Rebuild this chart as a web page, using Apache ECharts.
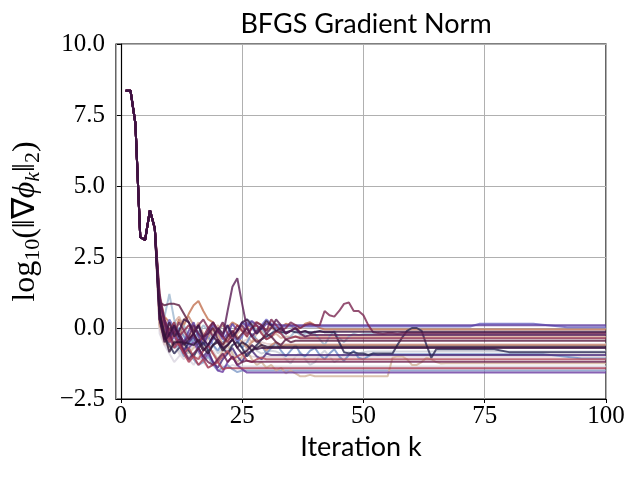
<!DOCTYPE html>
<html>
<head>
<meta charset="utf-8">
<script src="https://cdn.jsdelivr.net/npm/echarts@6/dist/echarts.min.js"></script>
<style>html,body{margin:0;padding:0;background:#fff}#c{width:640px;height:480px}</style>
</head>
<body>
<div id="c"></div>
<script>
// shared start of every run, k = 1..7
const head = [8.35, 8.35, 7.2, 3.2, 3.1, 4.15, 3.5];
// each tail continues from k = 8, one value per iteration; runs stay at their last value
const tail01 = [0.9,0.2,-0.3,0.1,-0.2,-0.5,-0.1,0.2,-0.3,-0.6,-0.2,0.1,-0.1,-0.4,-0.2,0.15,-0.1,0.2,0.05,0.25,0.1,-0.05,0.15,0.1,0.12,0.1];
const tail02 = [0.5,-0.2,0.3,0.0,-0.4,-0.8,-0.5,-0.2,-0.6,-0.3,-0.7,-0.4,-0.1,-0.3,0.1,-0.2,-0.5,-0.3,0.2,0.0,-0.2,0.1,0.3,0.15,0.0,0.05];
const late02 = [[72,0.05],[74,0.15],[85,0.15],[92,0.03]];
const tail03 = [1.0,0.4,0.2,-0.1,0.3,0.1,0.5,0.8,0.95,0.6,0.3,0.2,-0.1,0.1,0.0,0.2,0.1,-0.1,0.0,0.15,0.2,0.1,-0.1,0.05,-0.15,0.0,0.15,0.1,-0.05,0.0,0.15,0.2,0.1,0.0,-0.05];
const tail04 = [0.6,-0.4,0.2,-0.3,-0.1,0.3,0.2,-0.2,0.1,-0.4,-0.6,-0.3,0.0,-0.2,0.1,-0.3,-0.1,0.2,0.3,0.1,-0.2,0.0,0.25,0.1,-0.1,0.0,-0.2,-0.1,0.0,-0.15,-0.1,-0.2,-0.13];
const tail05 = [0.8,0.4,1.2,0.3,-0.2,0.1,-0.3,-0.5,-0.2,0.1,-0.1,-0.4,-0.2,0.2,0.0,-0.3,-0.1,0.1,0.3,0.2,-0.1,0.0,-0.3,-0.2,0.0,-0.1,-0.4,-0.3,-0.1,-0.25,-0.2,-0.15,-0.21,
                -0.4,-0.6,-0.3,-0.1,-0.35,-0.5,-0.3,-0.2,-0.25,-0.21];
const tail06 = [0.2,-0.5,-0.2,0.2,0.4,0.0,-0.3,-0.1,0.2,-0.2,-0.4,-0.1,0.1,-0.3,-0.6,-0.4,-0.2,0.0,-0.3,-0.5,-0.2,-0.1,-0.4,-0.3,-0.2,-0.35,-0.3,-0.31];
const tail07 = [1.2,0.3,-0.1,0.2,-0.3,-0.1,0.1,-0.2,-0.5,-0.3,0.0,0.2,-0.1,-0.3,-0.5,-0.2,0.1,-0.1,-0.3,0.0,0.1,-0.2,-0.4,-0.3,-0.1,-0.2,-0.4,-0.35,-0.3,-0.36];
const tail08 = [0.9,0.8,0.85,0.85,0.8,0.5,0.2,-0.1,0.1,-0.3,-0.2,0.0,-0.4,-0.6,-0.3,-0.1,-0.4,-0.2,0.0,-0.3,-0.5,-0.4,-0.2,-0.3,-0.5,-0.6,-0.4,-0.5,-0.45];
const tail09 = [0.3,-0.4,0.0,-0.2,0.2,-0.1,-0.4,-0.2,0.1,0.3,0.0,-0.3,-0.1,0.2,-0.2,-0.4,-0.1,0.1,-0.2,0.0,0.2,0.1,-0.1,0.3,0.1,-0.1,0.0,0.2,0.1,0.0,0.1,0.15,0.1,
                0.1,0.6,0.45,0.4,0.6,0.85,0.9,0.6,0.6,0.45,0.1,-0.15,-0.18,-0.2,-0.18,-0.18,-0.2,-0.18];
const tail10 = [0.0,-0.6,-0.3,0.1,-0.4,-0.2,-0.7,-0.5,-0.3,-0.6,-0.4,-0.1,-0.5,-0.7,-0.4,-0.3,-0.6,-0.5,-0.4,-0.7,-0.6,-0.5,-0.55,-0.57];
const tail11 = [0.5,-0.2,-0.85,-0.5,-0.5,-0.5,-0.55,-0.6,-0.4,-0.7,-0.9,-0.6,-0.5,-0.8,-0.6,-0.4,-0.7,-0.5,-0.6,-0.8,-0.7,-0.6,-0.65,-0.66];
const tail12 = [0.3,-0.3,-0.6,-0.9,-0.7,-0.5,-0.8,-1.0,-0.7,-0.5,-0.8,-0.6,-0.4,-0.7,-0.9,-0.6,-0.5,-0.7,-1.0,-0.8,-0.6,-0.4,-0.3,-0.2,-0.1,-0.15,
                -0.15,-0.1,-0.15,-0.15,-0.12,-0.15,-0.15,-0.1,-0.15,-0.15,-0.15,
                -0.5,-0.85,-0.9,-0.85,-0.9,-0.9,-0.95,-0.9,-0.9,-0.9,-0.9,
                -0.9,-0.6,-0.33,-0.1,0.0,0.0,-0.1,-0.6,-1.05,-0.75];
const late12 = [[77,-0.75],[80,-0.85]];
const tail13 = [0.1,-0.3,0.0,-0.5,-0.8,-1.0,-1.0,-0.95,-0.7,-0.5,-0.8,-0.6,-0.9,-0.7,-0.5,-0.8,-1.0,-0.9,-0.7,-0.6,-0.8,-0.9,-0.85,-0.8,-0.83,
                -0.9,-1.1,-1.25,-1.0,-0.85,-1.1,-1.3,-1.2,-0.95,-0.8,-1.0,-1.2,-1.1,-0.9,-0.85,-1.0,-0.9,-0.85,-0.83,-0.83];
const tail14 = [0.7,0.1,-0.4,-0.2,0.0,-0.3,-0.6,-0.4,-0.1,-0.5,-0.3,-0.6,-0.8,-0.5,-0.3,-0.1,-0.4,-0.7,-0.5,-0.2,-0.4,-0.6,-0.9,-0.7,-0.5,-0.8,-1.0,-0.8,-0.6,-0.9,-1.0,-0.8,-0.7,-0.95,-1.1,-0.9,-0.75,-1.0,-1.15,-0.95,-0.8,-1.05,-1.1,-1.0,-0.9,-0.95,-0.92,-0.92];
const late14 = [[87,-0.92],[95,-1.07]];
const tail15 = [0.0,-0.5,-0.8,-0.6,-0.9,-1.1,-0.8,-0.6,-0.9,-1.2,-1.0,-0.8,-1.1,-0.9,-0.7,-1.0,-1.2,-1.05,-0.95,-1.0,-1.01];
const tail16 = [0.6,-0.1,-0.5,-0.2,-0.6,-0.9,-0.7,-1.0,-1.1,-0.8,-0.6,-0.9,-1.2,-1.0,-0.8,-1.1,-1.0,-0.9,-1.15,-1.2,-1.1,-1.05,-1.1];
const tail17 = [0.9,0.3,-0.2,-0.6,-0.4,-0.8,-1.1,-0.9,-0.7,-1.0,-1.2,-1.3,-1.1,-0.9,-1.2,-1.0,-1.3,-1.2,-1.15,-1.19];
const tail18 = [0.2,-0.4,-0.7,-0.5,-0.3,-0.6,-0.9,-0.7,-0.5,-0.8,-0.6,-0.9,-1.1,-0.8,-0.6,-0.9,-1.2,-1.0,-0.8,-1.1,-1.3,-1.2,-1.4,-1.3,-1.5,-1.4,-1.6,-1.5,-1.6,-1.7,-1.7,-1.65,-1.7,-1.7,-1.7,-1.7,-1.7,-1.7,-1.7,-1.7,-1.7,-1.7,-1.7,-1.7,-1.7,-1.7,-1.7,-1.7,
                -1.05,-1.0,-1.0,-1.1,-1.3,-1.3,-1.2,-1.05,-1.1,-1.2,-1.25,-1.24];
const tail19 = [-0.2,-0.6,-0.9,-1.2,-1.0,-0.8,-1.1,-1.3,-1.0,-1.2,-1.4,-1.3,-1.1,-1.35,-1.4,-1.3,-1.36];
const tail20 = [0.8,0.2,-0.3,-0.7,-0.5,-0.9,-1.2,-1.0,-1.3,-1.1,-1.4,-1.3,-1.2,-1.45,-1.4,-1.42];
const tail21 = [0.4,-0.1,-0.4,-0.7,-0.6,-1.0,-0.8,-1.1,-1.3,-1.2,-1.0,-1.3,-1.5,-1.4,-1.3,-1.45,-1.55,-1.5];
const tail22 = [0.3,-0.2,-0.5,-0.3,-0.6,-0.9,-0.7,-0.5,-0.8,-1.1,-0.9,-1.2,-1.5,-1.55,-1.2,-1.0,-1.3,-1.45,-1.57];
const tail23 = [1.1,0.2,-0.3,0.0,-0.2,-0.5,-0.3,0.1,-0.2,-0.4,-0.1,0.2,-0.1,-0.3,0.6,1.45,1.75,0.85,0.0,-0.3,-0.1,0.1,-0.2,0.0,0.3,0.1,-0.2,-0.1,0.0,-0.2,-0.3,-0.25];
const tail24 = [0.1,-0.3,0.2,-0.1,-0.4,0.3,0.4,0.1,-0.2,-0.5,-0.3,0.0,-0.2,-0.6,-0.4,-0.1,-0.3,-0.5,-0.7,-0.5,-0.4,-0.6,-0.8,-0.6,-0.5,-0.65,-0.6];
const tail25 = [0.5,0.0,-0.4,-0.1,-0.6,-0.8,-0.5,-0.3,-0.7,-1.0,-0.8,-1.2,-1.4,-1.1,-0.9,-0.7,-1.0,-1.2,-0.9,-0.8,-1.0,-1.1,-0.9,-0.95];
const tail26 = [0.3,-0.5,-0.2,0.1,-0.3,-0.6,-0.4,-0.2,-0.5,-0.8,-0.6,-0.3,-0.5,-0.7,-0.6,-0.4,-0.7,-0.9,-0.8,-0.6,-0.75,-0.7];

const xTicks = [0, 25, 50, 75, 100];
const yTicks = [-2.5, 0.0, 2.5, 5.0, 7.5, 10.0];

const runs = [
  [tail03, null], [tail06, null], [tail13, null], [tail15, null], [tail19, null], [tail10, null],
  [tail05, null], [tail14, late14], [tail21, null], [tail24, null], [tail18, null],
  [tail02, late02], [tail01, null], [tail22, null], [tail25, null], [tail12, late12],
  [tail16, null], [tail20, null], [tail07, null], [tail17, null], [tail09, null],
  [tail08, null], [tail04, null], [tail11, null], [tail23, null], [tail26, null]
];
const lineColors = [
  '#c27050', '#d8aa98', '#c8ccd6', '#dcd0d8', '#d9d5e0', '#e0c4c4',
  '#9fb8d0', '#6f8fc5', '#7f9bc8', '#c88a70', '#d2b49a',
  '#6a63c0', '#5b3a9e', '#6a3aa0', '#4a2a7a', '#2c2a55',
  '#b04a5a', '#a83850', '#8e2b4a', '#6a1e4e', '#7a2550',
  '#5a1a40', '#3b1545', '#2f1436', '#5a1d55', '#3a1040'
];

function build(tail, late) {
  const pts = [];
  head.forEach((v, i) => pts.push([i + 1, v]));
  tail.forEach((v, i) => pts.push([8 + i, v]));
  (late || []).forEach(p => pts.push(p));
  const last = pts[pts.length - 1];
  if (last[0] < 100) pts.push([100, last[1]]);
  return pts;
}

const series = runs.map((r, i) => ({
  type: 'line',
  data: build(r[0], r[1]),
  showSymbol: false,
  silent: true,
  lineStyle: { color: lineColors[i], width: 2, opacity: 0.8 },
  z: 2 + i
}));

const chart = echarts.init(document.getElementById('c'), null, { renderer: 'canvas' });
chart.setOption({
  animation: false,
  backgroundColor: '#fff',
  title: {
    text: 'BFGS Gradient Norm',
    left: 361, top: 6, textAlign: 'center',
    textStyle: { fontFamily: 'Lato', fontWeight: 'normal', fontSize: 27, color: '#000' }
  },
  grid: { left: 116, right: 34, top: 44, bottom: 81, show: true, borderColor: '#000', borderWidth: 1.2, backgroundColor: 'transparent' },
  xAxis: {
    type: 'value', min: -1, max: 100, minInterval: 25, maxInterval: 25,
    name: 'Iteration k', nameLocation: 'middle', nameGap: 32,
    nameTextStyle: { fontFamily: 'Lato', fontSize: 27, color: '#000' },
    axisLine: { show: true, onZero: false, lineStyle: { color: '#000', width: 1.2 } },
    axisTick: { show: true, length: 4, lineStyle: { color: '#000' } },
    axisLabel: { showMinLabel: false, margin: 5, fontFamily: 'Liberation Serif', fontSize: 25, color: '#000',
      formatter: v => (xTicks.indexOf(v) >= 0 ? String(v) : '') },
    splitLine: { show: true, lineStyle: { color: '#b0b0b0', width: 1 } }
  },
  yAxis: {
    type: 'value', min: yTicks[0], max: yTicks[yTicks.length - 1], interval: 2.5,
    name: '{n|log}{s|10}{n|(‖∇}{i|ϕ}{si|k}{n|‖}{s|2}{n|)}',
    nameLocation: 'middle', nameGap: 72, nameRotate: 90,
    nameTextStyle: {
      color: '#000',
      rich: {
        n: { fontFamily: 'Liberation Serif', fontSize: 32, color: '#000' },
        i: { fontFamily: 'Liberation Serif', fontStyle: 'italic', fontSize: 32, color: '#000' },
        s: { fontFamily: 'Liberation Serif', fontSize: 22, color: '#000', verticalAlign: 'bottom', padding: [15, 0, 0, 0] },
        si: { fontFamily: 'Liberation Serif', fontStyle: 'italic', fontSize: 22, color: '#000', verticalAlign: 'bottom', padding: [15, 0, 0, 0] }
      }
    },
    axisLine: { show: true, lineStyle: { color: '#000', width: 1.2 } },
    axisTick: { show: true, length: 4, lineStyle: { color: '#000' } },
    axisLabel: { margin: 11, fontFamily: 'Liberation Serif', fontSize: 25, color: '#000',
      formatter: v => v.toFixed(1).replace('-', '\u2212') },
    splitLine: { show: true, lineStyle: { color: '#b0b0b0', width: 1 } }
  },
  series: series
});
</script>
</body>
</html>
